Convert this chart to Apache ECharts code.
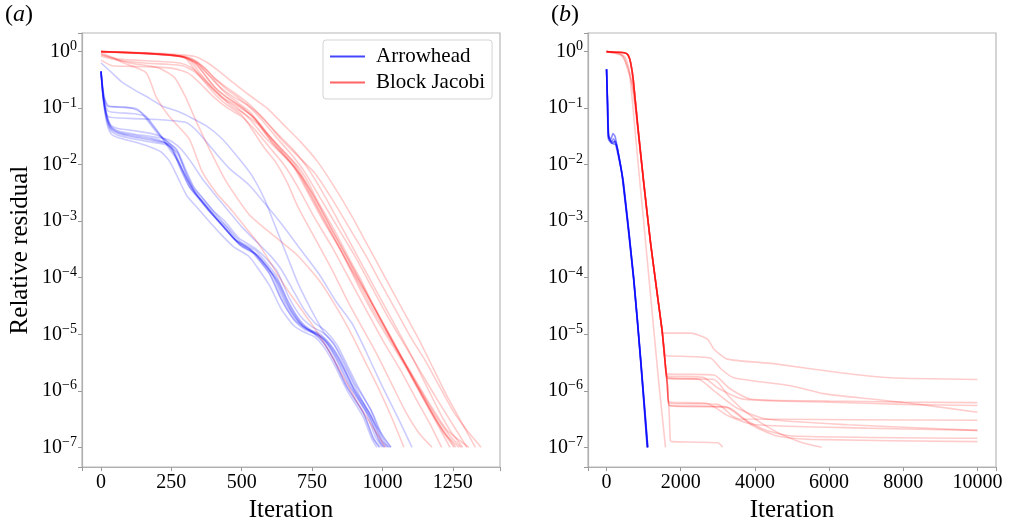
<!DOCTYPE html>
<html>
<head>
<meta charset="utf-8">
<script src="https://cdn.jsdelivr.net/npm/echarts@6/dist/echarts.min.js"></script>
<style>
html,body{margin:0;padding:0;background:#fff;}
#chart{width:1009px;height:528px;}
</style>
</head>
<body>
<div id="chart"></div>
<script>
// Each curve: [iteration, log10(relative residual)].
// ---------- Panel (a): Arrowhead ----------
const ahA1 = [[0,-0.35],[8,-0.8],[20,-1.15],[35,-1.35],[60,-1.43],[120,-1.5],[180,-1.55],[230,-1.62],[260,-1.75],[290,-2.1],[320,-2.4],[350,-2.6],[390,-2.85],[430,-3.06],[480,-3.35],[536,-3.51],[570,-3.7],[607,-3.93],[650,-4.4],[693,-4.74],[730,-4.9],[764,-4.98],[800,-5.15],[835,-5.44],[881,-5.91],[941,-6.38],[977,-6.84],[1000,-7]];
const ahA2 = [[0,-0.35],[8,-0.85],[20,-1.2],[35,-1.4],[60,-1.48],[120,-1.55],[180,-1.6],[240,-1.66],[272,-1.8],[300,-2.12],[330,-2.42],[365,-2.62],[405,-2.86],[445,-3.08],[495,-3.36],[550,-3.52],[585,-3.72],[622,-3.96],[665,-4.42],[708,-4.76],[745,-4.92],[780,-5.0],[815,-5.18],[850,-5.46],[896,-5.93],[955,-6.4],[992,-6.85],[1015,-7]];
const ahA3 = [[0,-0.35],[8,-0.78],[20,-1.1],[35,-1.3],[60,-1.36],[120,-1.4],[180,-1.45],[220,-1.52],[250,-1.68],[280,-2.05],[310,-2.36],[340,-2.56],[380,-2.8],[420,-3.02],[470,-3.3],[525,-3.48],[560,-3.68],[597,-3.92],[640,-4.38],[683,-4.72],[720,-4.88],[754,-4.97],[790,-5.14],[825,-5.43],[870,-5.9],[930,-6.37],[966,-6.83],[988,-7]];
const ahA4 = [[0,-0.35],[10,-0.75],[25,-0.95],[60,-0.98],[110,-1.0],[150,-1.1],[190,-1.35],[230,-1.6],[265,-1.85],[295,-2.15],[330,-2.45],[360,-2.65],[400,-2.9],[440,-3.12],[490,-3.4],[545,-3.56],[580,-3.76],[617,-4.0],[660,-4.45],[703,-4.78],[740,-4.93],[775,-5.02],[810,-5.2],[845,-5.5],[890,-5.95],[950,-6.42],[985,-6.86],[1008,-7]];
const ahA5 = [[0,-0.35],[10,-0.8],[25,-1.05],[60,-1.08],[120,-1.1],[160,-1.15],[200,-1.4],[240,-1.7],[275,-1.95],[305,-2.25],[335,-2.5],[370,-2.7],[410,-2.95],[450,-3.18],[500,-3.45],[555,-3.6],[590,-3.8],[628,-4.05],[672,-4.5],[715,-4.82],[752,-4.96],[787,-5.05],[822,-5.24],[857,-5.54],[902,-6.0],[962,-6.46],[998,-6.88],[1025,-7]];
const ahA6 = [[0,-0.35],[10,-0.85],[25,-1.15],[100,-1.18],[200,-1.2],[300,-1.25],[340,-1.4],[400,-1.75],[455,-2.06],[526,-2.36],[586,-2.71],[643,-3.06],[703,-3.46],[774,-3.93],[835,-4.42],[892,-4.81],[941,-5.3],[998,-5.91],[1059,-6.52],[1105,-7]];
const ahA7 = [[0,-0.2],[40,-0.38],[75,-0.54],[120,-0.68],[160,-0.79],[217,-0.96],[270,-1.05],[313,-1.15],[373,-1.31],[430,-1.54],[490,-1.89],[536,-2.19],[580,-2.6],[620,-3.1],[660,-3.6],[700,-4.1],[745,-4.55],[790,-4.95],[830,-5.2],[870,-5.6],[920,-6.1],[975,-6.6],[1030,-7]];
const ahA8 = [[0,-0.35],[10,-0.8],[25,-0.97],[80,-0.98],[130,-1.02],[170,-1.25],[210,-1.5],[245,-1.62],[275,-1.8],[305,-2.2],[335,-2.5],[365,-2.68],[405,-2.9],[445,-3.1],[495,-3.42],[550,-3.58],[590,-3.8],[630,-4.1],[672,-4.55],[715,-4.85],[755,-4.98],[790,-5.08],[825,-5.3],[860,-5.6],[905,-6.05],[958,-6.5],[990,-6.9],[1005,-7]];
const ahA9 = [[0,-0.35],[8,-0.85],[20,-1.25],[35,-1.45],[60,-1.52],[120,-1.6],[170,-1.68],[215,-1.78],[245,-1.95],[275,-2.25],[305,-2.55],[340,-2.75],[380,-2.98],[420,-3.2],[470,-3.45],[525,-3.62],[560,-3.85],[600,-4.15],[640,-4.55],[685,-4.85],[725,-4.97],[760,-5.05],[795,-5.25],[830,-5.55],[875,-6.0],[930,-6.45],[962,-6.85],[980,-7]];
const ahA10 = [[0,-0.35],[8,-0.82],[20,-1.18],[35,-1.37],[60,-1.45],[120,-1.52],[180,-1.57],[240,-1.63],[268,-1.72],[298,-2.05],[328,-2.38],[360,-2.58],[400,-2.82],[440,-3.0],[490,-3.3],[548,-3.48],[585,-3.65],[625,-3.88],[668,-4.35],[712,-4.7],[750,-4.87],[785,-4.96],[820,-5.12],[855,-5.4],[900,-5.86],[958,-6.33],[995,-6.8],[1020,-7]];
const ahA11 = [[0,-0.35],[8,-0.8],[20,-1.12],[35,-1.32],[60,-1.4],[120,-1.46],[180,-1.5],[240,-1.56],[280,-1.7],[320,-1.95],[360,-2.25],[400,-2.5],[450,-2.8],[500,-3.1],[550,-3.35],[600,-3.6],[640,-3.85],[680,-4.2],[720,-4.55],[760,-4.8],[800,-4.95],[840,-5.2],[875,-5.55],[915,-5.95],[965,-6.4],[1000,-6.8],[1030,-7]];
const ahA12 = [[0,-0.35],[8,-0.8],[20,-1.15],[35,-1.33],[60,-1.42],[120,-1.48],[180,-1.53],[225,-1.6],[255,-1.75],[285,-2.08],[315,-2.4],[345,-2.58],[385,-2.82],[425,-3.04],[475,-3.32],[530,-3.5],[565,-3.7],[602,-3.95],[645,-4.42],[688,-4.76],[725,-4.92],[760,-5.0],[795,-5.18],[830,-5.47],[876,-5.95],[935,-6.42],[970,-6.86],[992,-7]];

// ---------- Panel (a): Block Jacobi ----------
const bjA1 = [[0,0],[100,-0.02],[171,-0.035],[250,-0.06],[295,-0.09],[330,-0.17],[348,-0.23],[375,-0.38],[401,-0.5],[435,-0.7],[472,-0.85],[526,-1.05],[565,-1.28],[607,-1.54],[657,-1.8],[703,-2.05],[735,-2.3],[764,-2.59],[828,-3.15],[888,-3.72],[925,-4.05],[959,-4.4],[1000,-4.78],[1034,-5.08],[1070,-5.42],[1101,-5.73],[1140,-6.08],[1176,-6.4],[1215,-6.72],[1254,-7]];
const bjA2 = [[0,0],[150,-0.03],[260,-0.07],[300,-0.12],[330,-0.3],[370,-0.55],[410,-0.78],[450,-0.95],[500,-1.12],[540,-1.4],[580,-1.7],[620,-1.95],[660,-2.3],[700,-2.75],[760,-3.3],[820,-3.85],[880,-4.45],[930,-4.9],[980,-5.35],[1030,-5.85],[1080,-6.35],[1130,-6.75],[1176,-7]];
const bjA3 = [[0,0],[150,-0.03],[280,-0.08],[330,-0.15],[370,-0.3],[410,-0.5],[460,-0.68],[520,-0.9],[580,-1.2],[640,-1.55],[700,-1.85],[760,-2.15],[820,-2.6],[880,-3.1],[940,-3.6],[1000,-4.15],[1050,-4.6],[1100,-5.05],[1150,-5.45],[1200,-5.9],[1250,-6.35],[1300,-6.7],[1350,-7]];
const bjA4 = [[0,0],[180,-0.04],[290,-0.09],[320,-0.18],[355,-0.4],[390,-0.62],[430,-0.82],[480,-0.98],[530,-1.2],[580,-1.5],[630,-1.75],[680,-2.0],[730,-2.45],[790,-3.0],[850,-3.5],[910,-4.05],[970,-4.6],[1030,-5.1],[1090,-5.6],[1140,-6.05],[1190,-6.5],[1230,-6.8],[1260,-7]];
const bjA5 = [[0,-0.15],[40,-0.25],[100,-0.26],[180,-0.27],[260,-0.3],[310,-0.38],[350,-0.55],[400,-0.8],[450,-1.0],[500,-1.15],[550,-1.4],[600,-1.7],[650,-2.0],[700,-2.4],[760,-2.95],[820,-3.45],[880,-4.0],[940,-4.55],[1000,-5.1],[1060,-5.6],[1120,-6.15],[1170,-6.6],[1210,-7]];
const bjA6 = [[0,-0.05],[50,-0.12],[120,-0.15],[200,-0.17],[280,-0.2],[320,-0.28],[360,-0.45],[410,-0.7],[460,-0.95],[510,-1.1],[560,-1.3],[610,-1.62],[660,-1.9],[710,-2.2],[770,-2.75],[830,-3.3],[890,-3.85],[950,-4.35],[1010,-4.9],[1070,-5.45],[1130,-5.95],[1190,-6.45],[1240,-6.8],[1280,-7]];
const bjA7 = [[0,0],[200,-0.04],[300,-0.1],[345,-0.22],[380,-0.4],[420,-0.62],[470,-0.8],[520,-0.95],[570,-1.2],[620,-1.5],[670,-1.78],[720,-2.1],[780,-2.6],[840,-3.1],[900,-3.6],[960,-4.15],[1020,-4.7],[1080,-5.2],[1140,-5.7],[1200,-6.2],[1250,-6.6],[1300,-7]];
const bjA8 = [[0,0],[170,-0.03],[280,-0.08],[320,-0.16],[360,-0.35],[395,-0.58],[440,-0.78],[490,-0.95],[540,-1.15],[590,-1.45],[640,-1.75],[690,-2.05],[740,-2.5],[800,-3.05],[860,-3.6],[920,-4.2],[975,-4.7],[1030,-5.15],[1085,-5.6],[1140,-6.1],[1190,-6.55],[1240,-7]];
const bjA9 = [[0,0],[160,-0.03],[290,-0.09],[335,-0.2],[370,-0.42],[410,-0.66],[455,-0.84],[505,-1.0],[555,-1.25],[605,-1.58],[655,-1.85],[705,-2.15],[755,-2.55],[815,-3.1],[875,-3.65],[935,-4.2],[995,-4.75],[1055,-5.3],[1110,-5.8],[1165,-6.3],[1220,-6.75],[1272,-7]];
const bjA10 = [[0,-0.02],[40,-0.1],[75,-0.19],[160,-0.37],[195,-0.79],[241,-1.14],[313,-1.54],[359,-2.12],[410,-2.5],[465,-2.81],[520,-3.15],[561,-3.41],[610,-3.8],[660,-4.2],[710,-4.55],[760,-4.9],[810,-5.3],[860,-5.75],[910,-6.2],[960,-6.6],[1010,-7]];
const bjA11 = [[0,-0.05],[100,-0.2],[200,-0.28],[260,-0.45],[300,-0.8],[340,-1.25],[384,-1.71],[444,-2.29],[526,-2.88],[607,-3.23],[693,-3.58],[774,-4.04],[835,-4.51],[890,-5.0],[940,-5.5],[990,-6.0],[1035,-6.5],[1076,-7]];
const bjA12 = [[0,-0.08],[60,-0.15],[150,-0.2],[230,-0.22],[290,-0.25],[330,-0.35],[380,-0.58],[430,-0.8],[480,-0.95],[540,-1.15],[590,-1.45],[640,-1.72],[690,-2.0],[750,-2.5],[810,-3.05],[870,-3.6],[930,-4.15],[990,-4.7],[1050,-5.25],[1110,-5.75],[1170,-6.25],[1230,-6.7],[1307,-7]];
const bjA13 = [[0,0],[200,-0.03],[330,-0.08],[380,-0.2],[420,-0.35],[470,-0.55],[530,-0.78],[590,-1.0],[650,-1.3],[710,-1.6],[770,-1.95],[830,-2.4],[890,-2.9],[950,-3.45],[1010,-4.0],[1070,-4.55],[1130,-5.1],[1180,-5.6],[1230,-6.1],[1280,-6.55],[1330,-7]];
const bjA14 = [[0,0],[190,-0.04],[310,-0.1],[360,-0.25],[400,-0.45],[445,-0.66],[500,-0.86],[560,-1.1],[620,-1.42],[680,-1.72],[740,-2.1],[800,-2.6],[860,-3.15],[920,-3.7],[980,-4.25],[1040,-4.8],[1100,-5.35],[1150,-5.85],[1200,-6.35],[1240,-6.7],[1285,-7]];

// ---------- Panel (b): Arrowhead ----------
const ahB1 = [[0,-0.31],[27,-0.93],[54,-1.5],[135,-1.59],[189,-1.54],[270,-1.71],[432,-2.24],[728,-3.99],[917,-5.44],[1106,-7]];
const ahB2 = [[0,-0.31],[25,-0.95],[50,-1.55],[150,-1.62],[220,-1.6],[300,-1.75],[440,-2.28],[730,-4.02],[920,-5.47],[1100,-7]];
const ahB3 = [[0,-0.31],[30,-0.9],[60,-1.48],[120,-1.55],[170,-1.45],[230,-1.5],[290,-1.7],[420,-2.2],[720,-3.97],[910,-5.4],[1095,-7]];
const ahB4 = [[0,-0.31],[27,-0.93],[54,-1.52],[160,-1.6],[240,-1.58],[320,-1.8],[450,-2.3],[735,-4.02],[925,-5.48],[1110,-7]];
const ahB5 = [[0,-0.31],[25,-0.95],[55,-1.5],[140,-1.62],[260,-1.65],[330,-1.85],[460,-2.33],[740,-4.05],[930,-5.5],[1115,-7]];

// ---------- Panel (b): Block Jacobi ----------
const bjB1 = [[0,0],[250,-0.01],[480,-0.02],[580,-0.06],[650,-0.2],[720,-0.5],[840,-1.3],[1000,-2.3],[1190,-3.4],[1380,-4.35],[1500,-4.92],[1540,-4.98],[2270,-4.98],[2725,-5.09],[2890,-5.26],[3260,-5.44],[4500,-5.52],[6300,-5.68],[7660,-5.77],[10000,-5.8]];
const bjB2 = [[0,0],[250,-0.01],[480,-0.02],[580,-0.06],[650,-0.2],[720,-0.5],[840,-1.3],[1000,-2.3],[1190,-3.4],[1380,-4.35],[1500,-4.95],[1580,-5.35],[1620,-5.38],[2800,-5.42],[3080,-5.61],[3430,-5.77],[4960,-5.91],[5850,-6.05],[7200,-6.15],[8550,-6.25],[10000,-6.38]];
const bjB3 = [[0,0],[250,-0.01],[480,-0.02],[580,-0.06],[650,-0.2],[720,-0.5],[840,-1.3],[1000,-2.3],[1190,-3.4],[1380,-4.35],[1500,-4.95],[1580,-5.5],[1640,-5.7],[2900,-5.72],[3300,-5.95],[3900,-6.15],[6000,-6.18],[8000,-6.2],[10000,-6.21]];
const bjB4 = [[0,0],[250,-0.01],[480,-0.02],[580,-0.06],[650,-0.2],[720,-0.5],[840,-1.3],[1000,-2.3],[1190,-3.4],[1380,-4.35],[1500,-4.95],[1580,-5.5],[1645,-5.74],[2600,-5.76],[3000,-5.95],[3700,-6.15],[6000,-6.2],[8000,-6.24],[10000,-6.26]];
const bjB5 = [[0,0],[200,-0.02],[400,-0.05],[500,-0.15],[560,-0.3],[640,-0.45],[720,-0.7],[840,-1.35],[1000,-2.35],[1190,-3.42],[1380,-4.35],[1500,-4.95],[1580,-5.5],[1650,-5.77],[2500,-5.8],[2900,-6.0],[3500,-6.3],[4300,-6.5],[6500,-6.6],[10000,-6.7]];
const bjB6 = [[0,0],[250,-0.01],[480,-0.02],[580,-0.06],[650,-0.2],[720,-0.5],[840,-1.3],[1000,-2.3],[1190,-3.4],[1380,-4.35],[1500,-4.95],[1580,-5.5],[1650,-5.78],[2900,-5.8],[3300,-6.1],[3800,-6.4],[4500,-6.7],[5200,-6.9],[5800,-7]];
const bjB7 = [[0,0],[250,-0.01],[480,-0.02],[580,-0.06],[650,-0.2],[720,-0.5],[840,-1.3],[1000,-2.3],[1190,-3.4],[1380,-4.35],[1500,-4.95],[1580,-5.5],[1640,-5.9],[1690,-6.2],[2700,-6.22],[3300,-6.45],[4000,-6.6],[7000,-6.66],[10000,-6.7]];
const bjB8 = [[0,0],[250,-0.01],[480,-0.02],[580,-0.06],[650,-0.2],[720,-0.5],[840,-1.3],[1000,-2.3],[1190,-3.4],[1380,-4.35],[1500,-4.95],[1580,-5.5],[1640,-5.9],[1690,-6.22],[3000,-6.24],[3400,-6.45],[3600,-6.5],[10000,-6.52]];
const bjB9 = [[0,0],[200,-0.02],[420,-0.08],[520,-0.2],[600,-0.32],[700,-0.6],[840,-1.35],[1000,-2.3],[1190,-3.4],[1380,-4.35],[1500,-4.95],[1580,-5.5],[1640,-5.9],[1695,-6.26],[3200,-6.28],[3700,-6.5],[4300,-6.7],[5000,-6.8],[10000,-6.84]];
const bjB10 = [[0,0],[250,-0.01],[480,-0.02],[580,-0.06],[650,-0.2],[720,-0.5],[840,-1.3],[1000,-2.3],[1190,-3.4],[1380,-4.35],[1500,-4.95],[1580,-5.5],[1640,-5.9],[1695,-6.26],[3300,-6.3],[3900,-6.6],[4600,-6.8],[5500,-6.86],[10000,-6.9]];
const bjB11 = [[0,0],[250,-0.01],[480,-0.02],[580,-0.06],[650,-0.2],[720,-0.5],[840,-1.3],[1000,-2.3],[1190,-3.4],[1380,-4.35],[1500,-4.95],[1580,-5.5],[1640,-5.9],[1690,-6.4],[1720,-6.88],[1760,-6.9],[3000,-6.92],[3130,-7]];
const bjB12 = [[0,0],[300,-0.03],[500,-0.1],[600,-0.3],[700,-0.9],[840,-1.9],[1000,-3.0],[1200,-4.4],[1400,-5.8],[1590,-7]];

// Axis tick settings
const xTicksA = 250, xTicksB = 2000;
const xRangeA = [-67.5, 1417.5], xRangeB = [-500, 10500];
const yLogRange = [-7.35, 0.33];

const arrowheadA = [ahA1,ahA2,ahA3,ahA4,ahA5,ahA6,ahA7,ahA8,ahA9,ahA10,ahA11,ahA12];
const jacobiA = [bjA1,bjA2,bjA3,bjA4,bjA5,bjA6,bjA7,bjA8,bjA9,bjA10,bjA11,bjA12,bjA13,bjA14];
const arrowheadB = [ahB1,ahB2,ahB3,ahB4,ahB5];
const jacobiB = [bjB1,bjB2,bjB3,bjB4,bjB5,bjB6,bjB7,bjB8,bjB9,bjB10,bjB11,bjB12];

const FONT = 'Liberation Serif';
const toPts = c => c.map(p => [p[0], Math.pow(10, p[1])]);
function mk(curves, name, color, idx, op) {
  return curves.map(c => ({
    type: 'line', name: name, xAxisIndex: idx, yAxisIndex: idx,
    data: toPts(c), symbol: 'none', showSymbol: false, smooth: 0.2,
    silent: true, animation: false,
    lineStyle: { color: color, width: 1.6, opacity: op },
    itemStyle: { color: color },
    emphasis: { disabled: true }
  }));
}

function yLabel(v) {
  const l = Math.log10(v);
  const n = Math.round(l);
  if (Math.abs(l - n) > 0.01) return '';
  const s = n < 0 ? '\u2212' + (-n) : '' + n;
  return '{b|10}{s|' + s + '}';
}
const yRich = {
  b: { fontFamily: FONT, fontSize: 20, color: '#000', lineHeight: 24 },
  s: { fontFamily: FONT, fontSize: 14, color: '#000', lineHeight: 14, verticalAlign: 'top' }
};

function xAxis(idx, range, step) {
  return {
    type: 'value', gridIndex: idx, min: range[0], max: range[1],
    minInterval: step, maxInterval: step,
    name: 'Iteration', nameLocation: 'middle', nameGap: 27,
    nameTextStyle: { fontFamily: FONT, fontSize: 25, color: '#000' },
    axisLine: { show: true, onZero: false, lineStyle: { color: '#b0b0b0', width: 1.2 } },
    axisTick: { show: true, length: 4, lineStyle: { color: '#999' } },
    axisLabel: { fontFamily: FONT, fontSize: 20, color: '#000', margin: 6,
      formatter: v => (Math.abs(v % step) < 1e-9 ? String(v) : '') },
    splitLine: { show: false }
  };
}
function yAxis(idx, showName) {
  return {
    type: 'log', logBase: 10, gridIndex: idx,
    min: Math.pow(10, yLogRange[0]), max: Math.pow(10, yLogRange[1]),
    name: showName ? 'Relative residual' : '', nameLocation: 'middle', nameGap: 49,
    nameTextStyle: { fontFamily: FONT, fontSize: 25, color: '#000' },
    axisLine: { show: true, onZero: false, lineStyle: { color: '#b0b0b0', width: 1.2 } },
    axisTick: { show: true, length: 4, lineStyle: { color: '#999' } },
    axisLabel: { formatter: yLabel, rich: yRich, margin: 5 },
    splitLine: { show: false }
  };
}

const chart = echarts.init(document.getElementById('chart'), null, { renderer: 'canvas' });
chart.setOption({
  animation: false,
  backgroundColor: '#fff',
  grid: [
    { left: 82, top: 33, width: 418, height: 440, show: true, borderColor: '#b8b8b8', borderWidth: 1.2, backgroundColor: 'transparent' },
    { left: 588, top: 33, width: 408, height: 440, show: true, borderColor: '#b8b8b8', borderWidth: 1.2, backgroundColor: 'transparent' }
  ],
  xAxis: [xAxis(0, xRangeA, xTicksA), xAxis(1, xRangeB, xTicksB)],
  yAxis: [yAxis(0, true), yAxis(1, false)],
  legend: {
    left: 323, top: 40, orient: 'vertical',
    backgroundColor: '#fff', borderColor: '#d4d4d4', borderWidth: 1, borderRadius: 3,
    padding: [6, 7, 6, 7], itemGap: 5, itemWidth: 35, itemHeight: 2, icon: 'rect',
    selectedMode: false,
    textStyle: { fontFamily: FONT, fontSize: 21, color: '#000', padding: [0, 0, 0, 6] },
    data: [
      { name: 'Arrowhead', itemStyle: { color: 'rgba(70,70,255,1)', opacity: 1 } },
      { name: 'Block Jacobi', itemStyle: { color: 'rgba(255,100,100,1)', opacity: 1 } }
    ]
  },
  graphic: [
    { type: 'text', left: 5, top: 3, style: { text: '{p|(}{i|a}{p|)}', rich: {
      p: { fontFamily: FONT, fontSize: 24, fill: '#000' }, i: { fontFamily: FONT, fontSize: 24, fontStyle: 'italic', fill: '#000' } } } },
    { type: 'text', left: 551, top: 3, style: { text: '{p|(}{i|b}{p|)}', rich: {
      p: { fontFamily: FONT, fontSize: 24, fill: '#000' }, i: { fontFamily: FONT, fontSize: 24, fontStyle: 'italic', fill: '#000' } } } }
  ],
  series: [].concat(
    mk(arrowheadA, 'Arrowhead', '#0000ff', 0, 0.2),
    mk(jacobiA, 'Block Jacobi', '#ff0000', 0, 0.2),
    mk(arrowheadB, 'Arrowhead', '#0000ff', 1, 0.45),
    mk(jacobiB, 'Block Jacobi', '#ff0000', 1, 0.2)
  )
});
</script>
</body>
</html>
